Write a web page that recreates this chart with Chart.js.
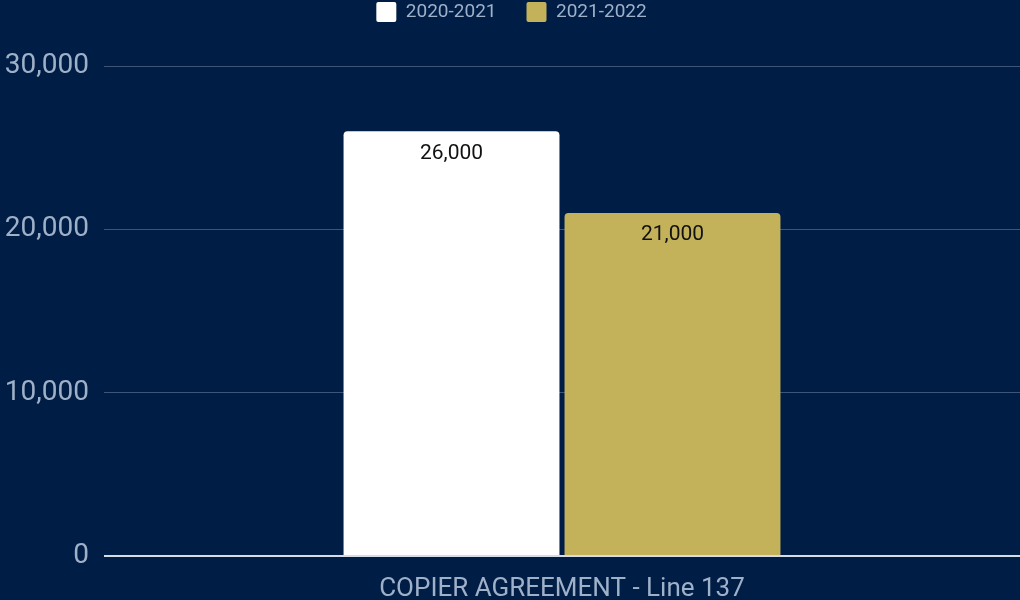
<!DOCTYPE html>
<html>
<head>
<meta charset="utf-8">
<script src="https://cdn.jsdelivr.net/npm/chart.js@4"></script>
<style>
  html, body { margin: 0; padding: 0; background: #001e45; }
  #wrap { width: 1020px; height: 600px; }
</style>
</head>
<body>
<div id="wrap"><canvas id="barChart"></canvas></div>
<script>
const categories = ['COPIER AGREEMENT - Line 137'];
const seriesNames = ['2020-2021', '2021-2022'];
const values2020 = [26000];
const values2021 = [21000];
const tickValues = [0, 10000, 20000, 30000];

// push the plot area down below the legend
const legendSpacer = {
    id: 'legendSpacer',
    beforeInit(chart) {
        const fit = chart.legend.fit;
        chart.legend.fit = function () {
            fit.call(this);
            this.height += 34;
        };
    }
};

// value labels inside the top of each bar
const barLabels = {
    id: 'barLabels',
    afterDatasetsDraw(chart) {
        const ctx = chart.ctx;
        ctx.save();
        ctx.font = '21px Roboto';
        ctx.fillStyle = '#111111';
        ctx.textAlign = 'center';
        ctx.textBaseline = 'middle';
        chart.data.datasets.forEach((ds, i) => {
            chart.getDatasetMeta(i).data.forEach((bar, j) => {
                ctx.fillText(ds.data[j].toLocaleString('en-US'), bar.x, bar.y + 22);
            });
        });
        ctx.restore();
    }
};

new Chart(document.getElementById('barChart'), {
    type: 'bar',
    data: {
        labels: categories,
        datasets: [{
            label: seriesNames[0],
            data: values2020,
            backgroundColor: '#ffffff',
            borderRadius: { topLeft: 4, topRight: 4 },
            borderSkipped: 'bottom'
        }, {
            label: seriesNames[1],
            data: values2021,
            backgroundColor: '#c4b25b',
            borderRadius: { topLeft: 4, topRight: 4 },
            borderSkipped: 'bottom'
        }]
    },
    options: {
        responsive: true,
        maintainAspectRatio: false,
        animation: false,
        categoryPercentage: 0.4825,
        barPercentage: 0.977,
        layout: { padding: { left: 3, right: 0, top: -28, bottom: 0 } },
        plugins: {
            legend: {
                position: 'top',
                labels: {
                    color: '#9fb0c9',
                    font: { family: 'Roboto', size: 19 },
                    boxWidth: 20,
                    boxHeight: 20,
                    padding: 30,
                    useBorderRadius: true,
                    borderRadius: 2
                }
            },
            tooltip: { enabled: false }
        },
        scales: {
            x: {
                grid: { display: false },
                border: { display: false },
                afterFit(axis) { axis.height = 44; },
                ticks: {
                    color: '#9fb0c9',
                    font: { family: 'Roboto', size: 26 },
                    padding: 10
                }
            },
            y: {
                min: 0,
                max: 30000,
                afterBuildTicks(axis) {
                    axis.ticks = tickValues.map(v => ({ value: v }));
                },
                afterFit(axis) { axis.width = 101; },
                grid: {
                    drawTicks: false,
                    color: ctx => ctx.tick && ctx.tick.value === 0 ? '#d5dce6' : '#3f5578',
                    lineWidth: ctx => ctx.tick && ctx.tick.value === 0 ? 2 : 1
                },
                border: { display: false },
                ticks: {
                    color: '#9fb0c9',
                    font: { family: 'Roboto', size: 28 },
                    padding: 15,
                    callback: v => v.toLocaleString('en-US')
                }
            }
        }
    },
    plugins: [legendSpacer, barLabels]
});
</script>
</body>
</html>
